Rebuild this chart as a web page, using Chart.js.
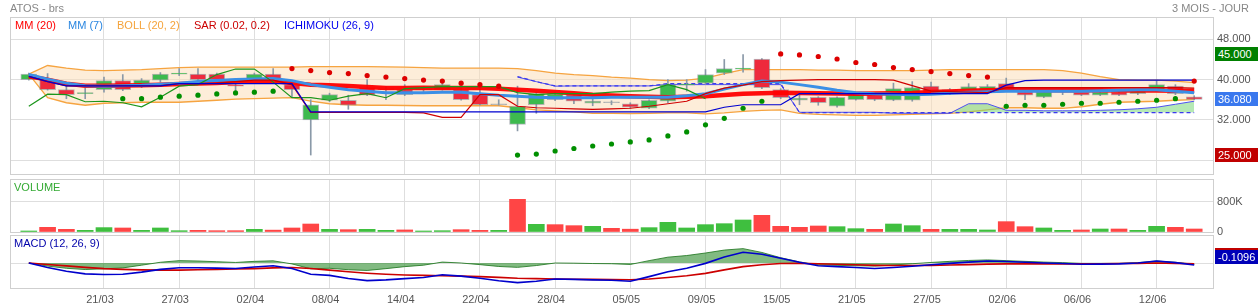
<!DOCTYPE html>
<html><head><meta charset="utf-8">
<script src="https://cdn.jsdelivr.net/npm/chart.js@4.4.1/dist/chart.umd.min.js"></script>
<style>
body{margin:0;background:#fff;}
#wrap{position:relative;width:1258px;height:308px;overflow:hidden;background:#fff;font-family:'Liberation Sans',Arial,Helvetica,sans-serif;}
.pn{position:absolute;left:0;width:1258px;}
.tx{position:absolute;font-size:11px;white-space:nowrap;line-height:13px;}
.vb{position:absolute;left:1215px;width:43px;height:14px;line-height:14px;color:#fff;font-size:11px;padding-left:3px;box-sizing:border-box;}
</style></head><body>
<div id="wrap">
  <div class="pn" style="top:0;height:178px"><canvas id="cMain" width="1258" height="178"></canvas></div>
  <div class="pn" style="top:176px;height:60px"><canvas id="cVol" width="1258" height="60"></canvas></div>
  <div class="pn" style="top:232px;height:76px"><canvas id="cMacd" width="1258" height="76"></canvas></div>

  <div class="tx" style="left:10px;top:2px;color:#888;">ATOS - brs</div>
  <div class="tx" style="right:9px;top:2px;color:#888;">3 MOIS - JOUR</div>

  <div class="tx" style="left:15px;top:19px;color:#ff0000;">MM (20)</div>
  <div class="tx" style="left:68px;top:19px;color:#2a86e0;">MM (7)</div>
  <div class="tx" style="left:117px;top:19px;color:#f5a33a;">BOLL (20, 2)</div>
  <div class="tx" style="left:194px;top:19px;color:#cc0000;">SAR (0.02, 0.2)</div>
  <div class="tx" style="left:284px;top:19px;color:#0000ee;">ICHIMOKU (26, 9)</div>

  <div class="tx" style="left:14px;top:181px;color:#33aa33;">VOLUME</div>
  <div class="tx" style="left:14px;top:237px;color:#0000aa;">MACD (12, 26, 9)</div>

  <div class="vb" id="bHigh" style="background:#008000;"></div>
  <div class="vb" id="bLast" style="background:#3a78ee;"></div>
  <div class="vb" id="bLow" style="background:#c00000;"></div>
  <div class="vb" id="bSig" style="background:#c00000;"></div>
  <div class="vb" id="bMacd" style="background:#0000b8;"></div>
</div>
<script>
// ---------- DATA ----------
const tickIdx = [4,8,12,16,20,24,28,32,36,40,44,48,52,56,60];
const tickLabels = ['21/03','27/03','02/04','08/04','14/04','22/04','28/04','05/05','09/05','15/05','21/05','27/05','02/06','06/06','12/06'];
const priceTicks = [24,32,40,48];
const volumeTicks = [0,800];

const opens  = [40.0,39.9,38.0,37.2,38.0,39.8,39.0,39.9,41.1,41.1, 41.1,38.9,40.2,41.1,39.0,32.0,35.9,35.9,38.4,38.0, 38.0,37.95,38.0,38.0,37.0,35.0,31.1,35.0,36.0,37.0, 35.3,35.4,35.2,34.3,35.7,38.9,39.3,41.3,42.1,44.1, 38.0,35.9,36.5,34.7,36.0,37.0,35.9,35.9,38.7,38.0, 38.0,37.9,39.2,37.6,36.5,37.6,37.5,36.9,37.5,37.2, 37.8,38.7,36.6];
const highs  = [41.3,41.2,38.7,38.4,40.5,41.0,40.2,41.4,42.2,42.2, 41.3,39.2,41.3,42.2,39.2,36.0,37.3,36.9,40.0,38.6, 39.0,38.6,40.0,39.0,38.8,36.0,38.7,37.4,37.5,37.2, 36.3,35.8,35.4,36.0,40.0,40.0,42.0,44.0,45.0,44.2, 38.2,37.0,36.6,36.6,37.2,37.2,39.3,39.6,39.5,38.2, 39.2,39.0,40.3,37.8,37.8,38.0,37.7,37.7,37.7,37.9, 39.9,39.0,36.8];
const lows   = [39.9,37.9,36.2,36.2,37.5,37.8,38.4,39.5,40.8,39.8, 39.6,37.6,40.0,39.8,36.4,25.0,35.6,34.1,36.8,36.0, 36.8,37.5,37.9,35.9,34.9,34.9,29.8,33.3,35.8,35.2, 34.8,35.0,34.3,34.2,35.4,37.7,39.1,41.0,41.5,38.2, 36.2,35.0,34.9,34.5,35.9,35.8,35.8,35.7,37.0,37.0, 37.8,37.7,37.9,36.0,36.4,37.0,36.8,36.8,36.8,37.0, 37.7,37.0,36.0];
const closes = [41.1,38.0,37.0,37.3,39.8,38.0,39.9,41.1,41.2,40.0, 39.95,38.7,41.1,40.0,38.0,35.0,37.0,34.9,36.9,38.05, 37.0,38.0,39.0,36.0,35.0,35.05,34.7,37.2,37.1,35.7, 35.75,35.45,34.5,35.9,39.0,39.05,41.0,42.2,42.3,38.4, 36.4,36.35,35.4,36.5,37.0,36.0,38.2,38.4,37.2,37.3, 38.6,38.65,38.0,36.9,37.6,37.65,36.9,37.5,36.9,37.8, 39.0,37.2,36.08];

const mm20 = [40.65,40.0,39.2,38.8,38.8,38.85,38.9,39.0,39.15,39.25, 39.35,39.5,39.65,39.7,39.3,39.0,38.9,38.75,38.55,38.35, 38.35,38.4,38.35,38.35,38.35,38.2,38.0,37.8,37.55,37.3, 37.0,36.85,36.7,36.6,36.5,36.6,36.7,36.95,37.2,37.3, 37.4,37.35,37.3,37.25,37.2,37.25,37.3,37.35,37.55,37.65, 37.8,37.9,38.0,38.0,37.95,37.9,37.9,37.9,37.85,37.85, 37.85,37.8,37.8];
const mm7  = [41.0,40.1,39.3,38.8,38.7,38.8,38.9,39.1,39.3,39.6, 39.8,40.0,40.1,40.2,39.8,39.0,38.5,38.0,37.7,37.4, 37.4,37.4,37.5,37.5,37.2,36.9,36.7,36.5,36.4,36.4, 36.4,36.5,36.5,36.5,36.5,36.8,37.2,38.1,39.0,39.7, 39.5,39.0,38.5,37.9,37.4,37.2,37.1,37.0,37.1,37.3, 37.5,37.6,37.7,37.7,37.7,37.7,37.7,37.8,37.9,38.0, 38.0,37.7,37.4];
const bollUp = [41.1,42.8,42.3,41.9,41.8,41.9,42.0,42.2,42.4,42.5, 42.5,42.5,42.5,42.5,42.5,42.6,42.6,42.6,42.6,42.55, 42.5,42.4,42.3,42.3,42.3,42.3,42.2,41.8,41.3,41.0, 40.8,40.5,40.3,40.0,39.8,39.9,40.3,41.2,42.0,42.0, 42.0,42.0,41.9,41.9,41.8,41.8,41.8,41.8,41.9,42.0, 42.0,42.0,42.0,42.0,42.0,41.8,41.3,40.6,40.0,39.9, 39.9,39.7,39.4];
const bollLo = [41.1,36.4,35.4,34.9,35.3,35.4,35.5,35.5,35.5,35.7, 35.9,36.1,36.2,36.3,36.4,35.7,35.2,35.0,34.9,34.9, 34.85,34.8,34.8,34.8,34.85,34.8,34.4,34.0,33.8,33.6, 33.3,33.3,33.25,33.3,33.4,33.4,33.2,33.4,33.7,33.9, 34.0,33.3,33.1,33.0,32.9,32.9,33.0,33.1,33.2,33.3, 33.6,34.0,34.4,34.4,34.3,34.3,34.6,35.1,35.5,35.6, 35.7,35.9,36.0];
const sar = [null,null,null,null,null,36.2,36.2,36.5,36.7,36.9, 37.15,37.35,37.5,37.7,42.2,41.8,41.4,41.2,40.8,40.5, 40.2,39.9,39.7,39.3,39.0,38.7,25.0,25.2,25.8,26.3, 26.8,27.2,27.6,28.0,28.8,29.6,31.0,32.3,34.3,35.7, 45.1,44.9,44.6,44.1,43.4,43.0,42.4,42.0,41.6,41.2, 40.8,40.5,34.7,34.9,34.9,35.1,35.3,35.3,35.5,35.7, 35.9,36.2,39.7];
const tenkan = [40.65,39.6,38.75,38.75,38.75,38.75,38.75,38.8,39.2,39.2, 39.3,39.6,39.9,39.9,39.0,33.5,33.5,33.5,33.5,33.5, 33.5,33.4,32.5,32.5,37.0,37.0,34.7,34.4,34.3,34.2, 34.1,34.2,34.3,34.7,35.2,35.7,37.2,38.3,38.9,39.6, 39.8,39.9,40.0,40.0,40.0,40.0,39.9,38.8,37.7,37.6, 37.5,37.4,38.4,38.4,38.4,38.4,38.4,38.4,38.4,38.4, 38.4,38.4,38.3];
const kijun = [40.65,39.6,38.75,38.75,38.75,38.75,38.75,38.75,39.2,39.2, 39.2,39.2,39.2,39.2,39.2,33.6,33.6,33.6,33.6,33.6, 33.6,33.6,33.6,33.6,33.6,33.6,33.6,33.6,33.6,33.6, 33.6,33.6,33.6,33.6,33.6,33.6,33.6,34.5,35.0,35.0, 35.0,37.2,37.2,37.2,37.2,37.2,37.2,37.2,37.2,37.2, 37.2,37.2,38.9,39.8,39.9,39.9,39.9,39.9,39.9,39.9, 39.9,39.9,39.9];
const senkouA = [null,null,null,null,null,null,null,null,null,null, null,null,null,null,null,null,null,null,null,null, null,null,null,null,null,null,40.5,39.6,38.7,38.75, 38.75,38.75,38.75,38.75,39.0,39.0,39.0,39.0,39.0,39.0, 39.0,33.5,33.5,33.5,33.5,33.5,33.3,33.3,33.3,33.3, 35.2,35.2,33.9,33.9,33.8,33.8,33.8,33.9,34.0,34.2, 34.5,35.1,35.7];
const senkouB = [null,null,null,null,null,null,null,null,null,null, null,null,null,null,null,null,null,null,null,null, null,null,null,null,null,null,40.6,39.6,38.75,38.75, 38.75,38.75,38.75,38.75,39.2,39.2,39.2,39.2,39.2,39.2, 39.2,33.45,33.45,33.45,33.45,33.45,33.45,33.45,33.45,33.45, 33.45,33.45,33.45,33.45,33.45,33.45,33.45,33.45,33.45,33.45, 33.45,33.45,33.45];
const chikou = [34.7,37.1,37.0,35.6,35.7,35.4,34.6,36.5,38.7,39.0, 41.0,42.1,42.1,39.5,36.4,36.4,35.9,36.7,37.2,36.4, 38.2,38.4,38.6,38.6,38.6,38.6,37.4,37.0,37.2,37.2, 37.2,37.5,37.7,37.8,39.0,38.0,36.2];

const volumes = [27,125,72,45,117,107,45,107,35,45, 35,35,72,50,107,213,72,62,72,45, 55,27,35,62,45,45,871,205,196,169, 152,98,75,116,258,107,196,222,320,444, 152,125,160,142,89,72,213,169,72,72, 72,54,276,142,107,45,54,80,80,45, 152,125,80];

const macd   = [0,-0.25,-0.45,-0.6,-0.63,-0.62,-0.5,-0.35,-0.26,-0.26, -0.28,-0.3,-0.22,-0.15,-0.3,-0.62,-0.68,-0.85,-0.97,-0.93, -0.86,-0.8,-0.65,-0.72,-0.84,-0.98,-1.08,-1.0,-0.88,-0.9, -0.93,-0.95,-1.0,-0.75,-0.48,-0.29,-0.02,0.33,0.59,0.48, 0.26,0.04,-0.15,-0.2,-0.25,-0.3,-0.25,-0.18,-0.1,-0.02, 0.05,0.11,0.08,0.04,0.0,-0.03,-0.07,-0.06,-0.05,0.0, 0.11,0.02,-0.1096];
const signal = [0,-0.08,-0.16,-0.24,-0.31,-0.35,-0.38,-0.39,-0.39,-0.37, -0.35,-0.33,-0.31,-0.27,-0.25,-0.3,-0.39,-0.48,-0.56,-0.62, -0.66,-0.68,-0.7,-0.72,-0.75,-0.79,-0.84,-0.86,-0.88,-0.89, -0.9,-0.91,-0.92,-0.88,-0.8,-0.7,-0.57,-0.38,-0.2,-0.1, -0.03,-0.02,-0.04,-0.07,-0.1,-0.13,-0.14,-0.14,-0.13,-0.11, -0.09,-0.06,-0.05,-0.05,-0.05,-0.05,-0.05,-0.04,-0.03,-0.02, 0.0,-0.02,-0.04];
const hist   = [0,-0.17,-0.29,-0.36,-0.32,-0.27,-0.12,0.04,0.13,0.11, 0.07,0.03,0.09,0.12,-0.05,-0.32,-0.29,-0.37,-0.41,-0.31, -0.2,-0.12,0.05,0.0,-0.09,-0.19,-0.24,-0.14,0.0,-0.01, -0.03,-0.04,-0.08,0.13,0.32,0.41,0.55,0.71,0.79,0.58, 0.29,0.06,-0.11,-0.13,-0.15,-0.17,-0.11,-0.04,0.03,0.09, 0.14,0.17,0.13,0.09,0.05,0.02,-0.02,-0.02,-0.02,0.02, 0.11,0.04,-0.07];

// ---------- SETUP ----------
const FONT = "'Liberation Sans', Arial, Helvetica, sans-serif";
Chart.defaults.font.family = FONT;
Chart.defaults.font.size = 11;
const GRID = '#dedede';
const GREEN = '#3dba4e', RED = '#ee2a3c';
const xy = arr => arr.map((v, i) => ({x: i, y: v}));

const frame = {
  id: 'frame',
  afterDatasetsDraw(c) {
    const a = c.chartArea, g = c.ctx;
    g.save(); g.strokeStyle = '#cfcfcf'; g.lineWidth = 1;
    g.strokeRect(Math.round(a.left) + 0.5, Math.round(a.top) + 0.5, Math.round(a.right - a.left), Math.round(a.bottom - a.top));
    g.restore();
  }
};

function xScale(show) {
  return {
    type: 'linear', min: -1, max: 63, bounds: 'data', offset: false,
    grid: {color: GRID, drawTicks: false, offset: false}, border: {display: false},
    ticks: {display: show, padding: 5, color: '#555', autoSkip: false, maxRotation: 0, labelOffset: -4,
      callback: (v) => { const k = tickIdx.indexOf(v); return k >= 0 ? tickLabels[k] : ''; }},
    afterBuildTicks: (s) => { s.ticks = tickIdx.map(v => ({value: v})); },
    afterFit: (s) => { s.height = show ? 20 : 0; s.paddingLeft = 0; s.paddingRight = 0; }
  };
}
function yScale(min, max, ticks, cb, show) {
  return {
    type: 'linear', position: 'right', min, max, bounds: 'data',
    grid: {color: GRID, drawTicks: false}, border: {display: false},
    ticks: {display: show, padding: 4, color: '#555', callback: cb},
    afterBuildTicks: (s) => { s.ticks = ticks.map(v => ({value: v})); },
    afterFit: (s) => { s.width = 45; s.paddingTop = 0; s.paddingBottom = 0; }
  };
}
const baseOpts = (padTop, padBottom) => ({
  responsive: false, animation: false, events: [], devicePixelRatio: 1,
  layout: {padding: {left: 10, top: padTop, right: 0, bottom: padBottom}},
  plugins: {legend: {display: false}, tooltip: {enabled: false}},
});
const line = (label, data, color, width, order, extra) => Object.assign({
  type: 'line', label, data: xy(data), borderColor: color, borderWidth: width,
  pointRadius: 0, tension: 0, fill: false, spanGaps: false, order
}, extra || {});

// ---------- MAIN PRICE CHART ----------
const bollFill = 'rgba(252,222,185,0.55)';
const mainChart = new Chart(document.getElementById('cMain'), {
  type: 'line',
  data: {datasets: [
    line('BOLL up', bollUp, '#f6a440', 1.3, 100, {fill: {target: '+1', above: bollFill, below: bollFill}, backgroundColor: bollFill}),
    line('BOLL low', bollLo, '#f6a440', 1.3, 99),
    line('Senkou A', senkouA, '#5050f0', 1, 98, {fill: {target: '+1', above: 'rgba(120,215,120,0.55)', below: 'rgba(150,150,235,0.55)'}}),
    line('Senkou B', senkouB, '#3a3aee', 1.2, 97, {borderDash: [4, 3]}),
    {type: 'bar', label: 'wicks', data: lows.map((l, i) => ({x: i, y: [l, highs[i]]})),
     backgroundColor: '#8a99a8', barThickness: 1, grouped: false, order: 90},
    {type: 'bar', label: 'bodies', data: opens.map((o, i) => ({x: i, y: [o, closes[i]]})),
     backgroundColor: (ctx) => { const i = ctx.dataIndex; const d = closes[i] - opens[i];
       if (Math.abs(d) < 0.08) return '#9aa5b0'; return d > 0 ? GREEN : RED; },
     borderColor: 'rgba(120,130,140,0.55)', borderWidth: 1, borderSkipped: false,
     barThickness: 16, minBarLength: 1, grouped: false, order: 89},
    line('MM20', mm20, 'rgba(255,0,0,0.95)', 4.5, 40),
    line('MM7', mm7, '#3b8fe6', 3, 39),
    line('Chikou', chikou, '#1c961c', 1.2, 30),
    line('Tenkan', tenkan, '#d00000', 1.2, 28),
    line('Kijun', kijun, '#0000d0', 1.2, 27),
    line('SAR', sar, 'transparent', 0, 10, {showLine: false, pointRadius: 2.6, pointBorderWidth: 0,
      pointBackgroundColor: (ctx) => { const i = ctx.dataIndex; return sar[i] > closes[i] ? '#dd0000' : '#008f00'; }})
  ]},
  options: Object.assign(baseOpts(17, 3), {
    scales: {
      x: xScale(false),
      y: yScale(21.23, 52.45, priceTicks, (v) => v === 24 ? '' : v.toFixed(3), true)
    }
  }),
  plugins: [frame]
});

// ---------- VOLUME CHART ----------
new Chart(document.getElementById('cVol'), {
  type: 'line',
  data: {datasets: [
    {type: 'bar', label: 'volume', data: xy(volumes), barThickness: 16, grouped: false,
     backgroundColor: (ctx) => { const i = ctx.dataIndex; return (i === 0 || closes[i] >= closes[i - 1]) ? '#3fbf3f' : '#ff4545'; }}
  ]},
  options: Object.assign(baseOpts(3, 4), {
    scales: {
      x: xScale(false),
      y: yScale(0, 1413, volumeTicks, (v) => v === 0 ? '0' : v + 'K', true)
    }
  }),
  plugins: [frame]
});

// ---------- MACD CHART ----------
const macdChart = new Chart(document.getElementById('cMacd'), {
  type: 'line',
  data: {datasets: [
    line('hist', hist, 'rgba(35,120,35,0.85)', 1, 3, {fill: 'origin', backgroundColor: 'rgba(45,140,45,0.6)'}),
    line('signal', signal, '#cc0000', 1.6, 2),
    line('macd', macd, '#0000cc', 1.6, 1)
  ]},
  options: Object.assign(baseOpts(3, 0), {
    scales: {
      x: xScale(true),
      y: yScale(-1.375, 1.54, [0], (v) => '', false)
    }
  }),
  plugins: [frame]
});

// ---------- VALUE BOXES (placed through the chart scales) ----------
function place(id, text, top) { const el = document.getElementById(id); el.textContent = text; el.style.top = Math.round(top) + 'px'; }
const ys = mainChart.scales.y;
const hi = Math.max(...highs), lo = Math.min(...lows), last = closes[closes.length - 1];
place('bHigh', hi.toFixed(3), ys.getPixelForValue(hi) - 7);
place('bLast', last.toFixed(3), ys.getPixelForValue(last) - 7);
place('bLow', lo.toFixed(3), ys.getPixelForValue(lo) - 7);
const ms = macdChart.scales.y;
const mLast = macd[macd.length - 1], sLast = signal[signal.length - 1];
place('bSig', '', 232 + ms.getPixelForValue(sLast) - 16);
place('bMacd', mLast.toFixed(4), 232 + ms.getPixelForValue(mLast) - 15);
</script>
</body></html>
